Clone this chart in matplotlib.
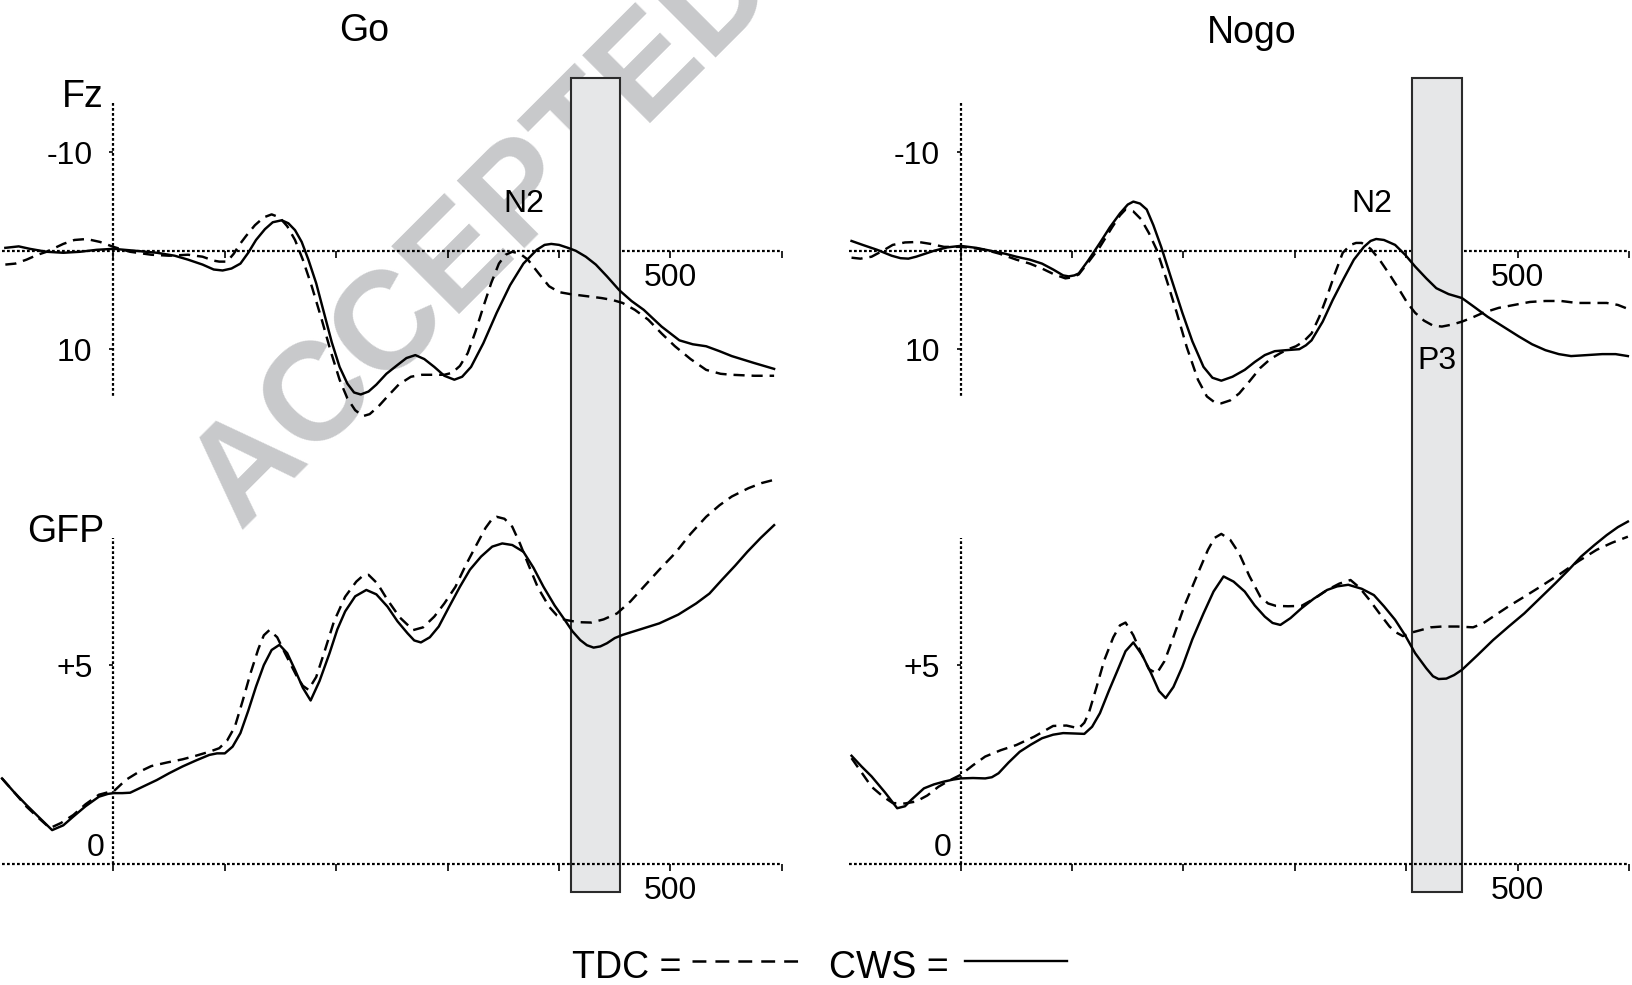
import matplotlib
matplotlib.use("Agg")
import matplotlib.pyplot as plt
from matplotlib.patches import Rectangle
from matplotlib.lines import Line2D
import matplotlib.transforms as mtransforms

plt.rcParams['font.family'] = ['Liberation Sans', 'DejaVu Sans']
plt.rcParams['lines.scale_dashes'] = False

# ---- data (ms, µV) ----
# Go, Fz
go_fz_cws_t = [-97, -85, -75, -60, -45, -30, -15, 0, 20, 39, 55, 67, 80, 90, 98, 106, 114, 121, 128, 136,
               143, 151, 157, 163, 169, 175, 182, 189, 196, 203, 210, 216, 222, 229, 236, 245, 255, 263,
               271, 279, 288, 297, 306, 313, 321, 332, 344, 356, 368, 380, 387, 393, 400, 408, 415, 424,
               433, 443, 454, 465, 476, 492, 508, 520, 532, 544, 555, 575, 593]
go_fz_cws = [-0.3, -0.45, -0.2, 0.1, 0.2, 0.1, -0.1, -0.2, 0.0, 0.2, 0.5, 0.9, 1.4, 1.9, 2.0, 1.8, 1.3, 0.2, -1.1, -2.2,
             -2.9, -3.1, -2.8, -2.1, -0.9, 0.9, 3.3, 6.3, 9.3, 11.8, 13.5, 14.4, 14.6, 14.3, 13.6, 12.5, 11.6, 10.9,
             10.6, 11.0, 11.8, 12.7, 13.1, 12.8, 11.8, 9.4, 6.3, 3.5, 1.3, -0.1, -0.6, -0.7, -0.6, -0.3, 0.0, 0.6,
             1.4, 2.6, 4.0, 5.1, 6.0, 7.7, 9.1, 9.5, 9.7, 10.2, 10.7, 11.4, 12.0]
go_fz_tdc_t = [-97, -88, -78, -68, -60, -45, -35, -24, -12, 0, 15, 34, 50, 67, 80, 90, 95, 102, 108, 113,
               119, 127, 135, 142, 149, 156, 163, 170, 178, 187, 195, 203, 210, 217, 224, 230, 238, 246,
               256, 267, 277, 288, 297, 304, 311, 318, 325, 332, 339, 346, 352, 358, 365, 372, 381, 391,
               400, 410, 424, 438, 448, 457, 468, 480, 492, 504, 518, 532, 545, 555, 575, 593]
go_fz_tdc = [1.4, 1.3, 0.9, 0.4, 0.1, -0.7, -1.1, -1.2, -0.9, -0.4, 0.1, 0.4, 0.5, 0.4, 0.6, 1.0, 1.1, 1.1, 0.3, -0.6,
             -1.5, -2.6, -3.4, -3.7, -3.4, -2.5, -1.1, 0.9, 3.6, 7.0, 10.2, 13.1, 15.0, 16.2, 16.8, 16.6, 15.8, 14.8,
             13.6, 12.8, 12.6, 12.6, 12.6, 12.4, 11.7, 10.4, 8.2, 5.7, 3.3, 1.3, 0.4, 0.1, 0.3, 0.9, 2.2, 3.6,
             4.2, 4.4, 4.6, 4.8, 5.0, 5.3, 6.0, 7.0, 8.4, 9.7, 11.0, 12.1, 12.5, 12.6, 12.7, 12.7]

# Nogo, Fz
nogo_fz_cws_t = [-98, -88, -75, -62, -54, -47, -40, -32, -24, -12, 0, 14, 27, 40, 50, 62, 73, 83, 92, 97,
                 102, 106, 115, 125, 134, 143, 150, 155, 161, 167, 173, 180, 189, 199, 208, 218, 226, 234,
                 244, 255, 264, 273, 282, 292, 298, 304, 310, 315, 325, 334, 344, 353, 362, 368, 373, 380,
                 390, 399, 408, 418, 427, 438, 450, 461, 473, 487, 501, 513, 525, 537, 548, 562, 576, 588, 599]
nogo_fz_cws = [-1.0, -0.6, -0.1, 0.5, 0.75, 0.8, 0.6, 0.3, 0.0, -0.35, -0.5, -0.3, 0.0, 0.3, 0.6, 0.9, 1.3, 1.9, 2.5, 2.6,
               2.5, 2.3, 0.9, -0.8, -2.4, -3.8, -4.7, -5.0, -4.8, -4.2, -2.6, -0.4, 2.8, 6.3, 9.2, 11.8, 12.9, 13.2,
               12.8, 12.1, 11.3, 10.6, 10.2, 10.1, 10.05, 10.0, 9.6, 9.1, 7.2, 5.0, 2.8, 0.9, -0.4, -1.0, -1.2, -1.1,
               -0.6, 0.4, 1.6, 2.8, 3.8, 4.4, 4.8, 5.7, 6.7, 7.7, 8.7, 9.5, 10.1, 10.5, 10.7, 10.6, 10.5, 10.5, 10.7]
nogo_fz_tdc_t = [-98, -90, -80, -70, -61, -50, -38, -27, -15, 0, 10, 22, 35, 50, 62, 73, 84, 94, 100, 106,
                 115, 125, 136, 143, 148, 155, 162, 169, 176, 185, 194, 203, 213, 221, 228, 234, 242, 250,
                 259, 269, 278, 287, 294, 301, 308, 315, 322, 329, 336, 343, 350, 355, 360, 368, 376, 385,
                 394, 401, 408, 416, 424, 432, 441, 450, 459, 469, 483, 497, 511, 525, 539, 553, 566, 580, 590, 599]
nogo_fz_tdc = [0.7, 0.8, 0.6, 0.0, -0.6, -0.85, -0.9, -0.7, -0.4, -0.4, -0.3, -0.1, 0.3, 0.9, 1.3, 1.8, 2.4, 2.8, 2.7, 2.4,
               1.1, -0.4, -2.4, -3.6, -4.2, -4.0, -3.2, -1.8, -0.1, 3.0, 6.3, 9.8, 13.1, 14.8, 15.4, 15.5, 15.2, 14.5,
               13.3, 11.9, 11.0, 10.4, 10.0, 9.7, 9.2, 8.4, 6.7, 4.6, 2.3, 0.2, -0.6, -0.8, -0.8, -0.2, 0.9, 2.4,
               4.0, 5.3, 6.3, 7.1, 7.6, 7.7, 7.5, 7.2, 6.8, 6.3, 5.8, 5.5, 5.2, 5.1, 5.1, 5.3, 5.3, 5.3, 5.5, 5.9]

# Go, GFP
go_gfp_cws_t = [-100, -89, -78, -66, -55, -45, -36, -25, -13, -5, 0, 8, 15, 27, 39, 50, 62, 74, 86, 93,
                100, 107, 114, 121, 128, 135, 142, 149, 156, 163, 170, 177, 185, 194, 201, 208, 217, 227,
                236, 246, 255, 264, 270, 276, 284, 292, 301, 311, 320, 330, 340, 349, 358, 368, 377, 386,
                396, 405, 412, 419, 425, 431, 437, 443, 450, 457, 473, 490, 507, 523, 535, 546, 558, 569, 581, 593]
go_gfp_cws = [2.15, 1.8, 1.48, 1.15, 0.85, 0.97, 1.19, 1.45, 1.69, 1.76, 1.78, 1.78, 1.79, 1.95, 2.11, 2.28, 2.45, 2.6, 2.74, 2.78,
              2.78, 2.95, 3.29, 3.85, 4.46, 5.0, 5.38, 5.51, 5.3, 4.88, 4.43, 4.11, 4.6, 5.30, 5.9, 6.35, 6.73, 6.89,
              6.78, 6.47, 6.1, 5.80, 5.62, 5.57, 5.7, 5.97, 6.45, 6.97, 7.4, 7.73, 7.98, 8.06, 8.02, 7.85, 7.45, 6.97,
              6.5, 6.14, 5.85, 5.63, 5.5, 5.44, 5.47, 5.55, 5.68, 5.76, 5.9, 6.05, 6.27, 6.55, 6.8, 7.14, 7.5, 7.85, 8.2, 8.52]
go_gfp_tdc_t = [-100, -89, -78, -67, -57, -47, -36, -25, -13, -5, 0, 5, 11, 22, 34, 48, 62, 74, 86, 95,
                102, 109, 116, 123, 130, 135, 140, 147, 154, 164, 170, 175, 182, 189, 198, 208, 218, 224,
                229, 237, 246, 257, 269, 278, 288, 297, 307, 316, 325, 334, 340, 344, 351, 358, 365, 372,
                381, 391, 398, 405, 417, 429, 440, 452, 464, 476, 490, 504, 518, 532, 544, 555, 570, 582, 593]
go_gfp_tdc = [2.15, 1.8, 1.44, 1.15, 0.90, 1.03, 1.23, 1.5, 1.74, 1.8, 1.82, 1.95, 2.11, 2.3, 2.46, 2.55, 2.63, 2.72, 2.82, 2.91,
              3.1, 3.45, 4.1, 4.79, 5.4, 5.75, 5.88, 5.7, 5.30, 4.75, 4.48, 4.38, 4.7, 5.30, 6.1, 6.72, 7.1, 7.25,
              7.27, 7.05, 6.64, 6.2, 5.88, 5.95, 6.22, 6.55, 6.97, 7.5, 7.98, 8.45, 8.68, 8.73, 8.68, 8.48, 8.05, 7.56,
              6.95, 6.47, 6.25, 6.14, 6.08, 6.07, 6.15, 6.30, 6.6, 6.97, 7.4, 7.81, 8.3, 8.73, 9.02, 9.24, 9.45, 9.58, 9.66]

# Nogo, GFP
nogo_gfp_cws_t = [-98, -89, -80, -68, -57, -50, -44, -33, -24, -15, -7, 0, 11, 22, 28, 34, 43, 53, 63, 73,
                  83, 92, 102, 111, 118, 125, 133, 141, 148, 155, 163, 171, 178, 184, 191, 199, 208, 218,
                  227, 236, 245, 255, 264, 273, 280, 287, 296, 306, 317, 329, 338, 348, 360, 371, 380, 390,
                  399, 408, 418, 424, 429, 436, 443, 450, 464, 478, 492, 506, 520, 534, 546, 557, 569, 580, 590, 599]
nogo_gfp_cws = [2.72, 2.45, 2.20, 1.8, 1.40, 1.45, 1.62, 1.90, 2.0, 2.07, 2.12, 2.15, 2.16, 2.15, 2.18, 2.28, 2.55, 2.82, 3.0, 3.16,
                3.25, 3.29, 3.28, 3.27, 3.45, 3.79, 4.35, 4.88, 5.35, 5.57, 5.25, 4.79, 4.35, 4.17, 4.45, 4.96, 5.65, 6.30,
                6.85, 7.23, 7.1, 6.85, 6.5, 6.22, 6.06, 6.01, 6.18, 6.43, 6.67, 6.89, 6.98, 7.02, 6.92, 6.76, 6.48, 6.14,
                5.75, 5.30, 4.92, 4.72, 4.65, 4.66, 4.75, 4.88, 5.25, 5.63, 5.97, 6.30, 6.68, 7.06, 7.4, 7.73, 8.02, 8.27, 8.47, 8.61]
nogo_gfp_tdc_t = [-98, -89, -80, -70, -61, -50, -40, -30, -20, -10, 0, 11, 22, 36, 50, 66, 83, 95, 106, 111,
                  115, 122, 129, 137, 143, 148, 155, 162, 169, 176, 183, 190, 201, 213, 222, 228, 234, 242,
                  250, 259, 269, 276, 283, 294, 306, 318, 329, 340, 350, 358, 367, 376, 385, 391, 397, 405,
                  413, 422, 432, 446, 460, 469, 478, 492, 506, 522, 539, 555, 571, 585, 599]
nogo_gfp_tdc = [2.66, 2.3, 1.94, 1.7, 1.53, 1.52, 1.57, 1.72, 1.94, 2.1, 2.24, 2.48, 2.70, 2.86, 2.99, 3.2, 3.47, 3.48, 3.41, 3.55,
                3.79, 4.45, 5.13, 5.7, 6.0, 6.07, 5.75, 5.30, 4.9, 4.79, 5.1, 5.63, 6.5, 7.31, 7.9, 8.2, 8.30, 8.15,
                7.81, 7.25, 6.72, 6.55, 6.49, 6.48, 6.49, 6.68, 6.89, 7.05, 7.14, 6.95, 6.64, 6.3, 5.97, 5.82, 5.73, 5.82,
                5.88, 5.95, 5.97, 5.97, 5.95, 6.05, 6.22, 6.48, 6.72, 7.0, 7.31, 7.62, 7.90, 8.08, 8.23]

# analysis windows (ms)
go_window = (411, 455)
nogo_window = (405, 450)

W, H = 1632, 985
fig = plt.figure(figsize=(W / 100, H / 100), dpi=100)

DOT = (0, (2.0, 1.6))
TDC_DASH = (0, (8, 5))
LW = 1.75


def add_px_axes(x0, x1, ytop, ybot):
    ax = fig.add_axes([x0 / W, 1 - ybot / H, (x1 - x0) / W, (ybot - ytop) / H])
    ax.set_facecolor('none')
    return ax


def style_axes(ax, ylo, yhi, yticks, ylabels):
    ax.set_xlim(-100, 600)
    for s in ['top', 'right']:
        ax.spines[s].set_visible(False)
    ax.spines['bottom'].set_position(('data', 0))
    ax.spines['left'].set_position(('data', 0))
    ax.spines['left'].set_bounds(ylo, yhi)
    for s in ['bottom', 'left']:
        ax.spines[s].set_linestyle(DOT)
        ax.spines[s].set_linewidth(1.6)
        ax.spines[s].set_capstyle('butt')
    ax.set_xticks([0, 100, 200, 300, 400, 500, 600])
    ax.set_xticklabels(['', '', '', '', '', '500', ''])
    ax.tick_params(axis='x', direction='out', length=5, width=1.2, pad=4, labelsize=23)
    ax.set_yticks(yticks)
    ax.set_yticklabels(ylabels)
    ax.tick_params(axis='y', direction='out', length=3, width=1.2, pad=12, labelsize=23)


# watermark
bg = fig.add_axes([0, 0, 1, 1], zorder=-1)
bg.axis('off')
bg.text(240 / W, 1 - 530 / H, 'ACCEPTED', transform=bg.transAxes, rotation=45,
        rotation_mode='anchor', ha='left', va='baseline', fontsize=100,
        fontweight='bold', color='#c8c9cb')

panels = [
    (2, 781.9, go_window,
     (go_fz_tdc_t, go_fz_tdc, go_fz_cws_t, go_fz_cws),
     (go_gfp_tdc_t, go_gfp_tdc, go_gfp_cws_t, go_gfp_cws)),
    (849.3, 1629, nogo_window,
     (nogo_fz_tdc_t, nogo_fz_tdc, nogo_fz_cws_t, nogo_fz_cws),
     (nogo_gfp_tdc_t, nogo_gfp_tdc, nogo_gfp_cws_t, nogo_gfp_cws)),
]

axes_fz = []
for x0, x1, win, fz, gfp in panels:
    ax = add_px_axes(x0, x1, 103.2, 398.4)
    ax.set_ylim(15, -15)
    style_axes(ax, -15, 15, [-10, 10], ['-10', '10'])
    trans = mtransforms.blended_transform_factory(ax.transData, fig.transFigure)
    rect = Rectangle((win[0], 1 - 892 / H), win[1] - win[0], (892 - 78) / H, transform=trans,
                     facecolor='#e6e7e8', edgecolor='#2b2b2b', linewidth=1.5,
                     clip_on=False, zorder=2.6)
    ax.add_patch(rect)
    ax.plot(fz[0], fz[1], color='black', lw=LW, linestyle=TDC_DASH, clip_on=False, zorder=3)
    ax.plot(fz[2], fz[3], color='black', lw=LW, clip_on=False, zorder=3)
    axes_fz.append(ax)

    ax2 = add_px_axes(x0, x1, 466.3, 863.9)
    ax2.set_ylim(0, 10)
    style_axes(ax2, 0, 8.2, [5], ['+5'])
    ax2.text(-8, 0.4, '0', ha='right', va='center', fontsize=23)
    ax2.plot(gfp[0], gfp[1], color='black', lw=LW, linestyle=TDC_DASH, clip_on=False, zorder=3)
    ax2.plot(gfp[2], gfp[3], color='black', lw=LW, clip_on=False, zorder=3)

# peak labels
axes_fz[0].text(368, -4.8, 'N2', ha='center', va='center', fontsize=23, zorder=4)
axes_fz[1].text(369, -4.8, 'N2', ha='center', va='center', fontsize=23, zorder=4)
axes_fz[1].text(428, 11.15, 'P3', ha='center', va='center', fontsize=23, zorder=4)

# titles and row labels
fig.text(364 / W, 1 - 31 / H, 'Go', ha='center', va='center', fontsize=27)
fig.text(1252 / W, 1 - 33 / H, 'Nogo', ha='center', va='center', fontsize=27)
fig.text(104 / W, 1 - 107 / H, 'Fz', ha='right', va='baseline', fontsize=27)
fig.text(104 / W, 1 - 542 / H, 'GFP', ha='right', va='baseline', fontsize=27)

# legend
ly = 1 - 961 / H
fig.text(572 / W, 1 - 978 / H, 'TDC =', ha='left', va='baseline', fontsize=27)
fig.add_artist(Line2D([692 / W, 798 / W], [ly, ly], color='black', lw=1.8,
                      linestyle=(0, (10, 6.5)), transform=fig.transFigure))
fig.text(829 / W, 1 - 978 / H, 'CWS =', ha='left', va='baseline', fontsize=27)
fig.add_artist(Line2D([965 / W, 1067 / W], [ly, ly], color='black', lw=1.7,
                      transform=fig.transFigure))

fig.savefig('out.png', dpi=100)
